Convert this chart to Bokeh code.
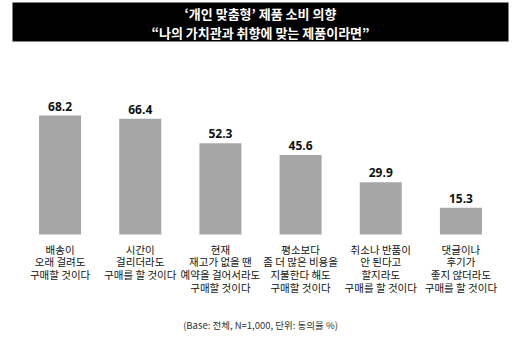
from bokeh.plotting import figure
from bokeh.models import FactorRange, Range1d, BoxAnnotation, Label, ColumnDataSource
from bokeh.core.properties import value
from bokeh.embed import file_html
from bokeh.resources import INLINE

# ---- data ----
categories = [
    "배송이\n오래 걸려도\n구매할 것이다",
    "시간이\n걸리더라도\n구매를 할 것이다",
    "현재\n재고가 없을 땐\n예약을 걸어서라도\n구매할 것이다",
    "평소보다\n좀 더 많은 비용을\n지불한다 해도\n구매할 것이다",
    "취소나 반품이\n안 된다고\n할지라도\n구매를 할 것이다",
    "댓글이나\n후기가\n좋지 않더라도\n구매를 할 것이다",
]
values = [68.2, 66.4, 52.3, 45.6, 29.9, 15.3]
value_labels = ["68.2", "66.4", "52.3", "45.6", "29.9", "15.3"]
title_text = "‘개인 맞춤형’ 제품 소비 의향\n“나의 가치관과 취향에 맞는 제품이라면”"
footer_text = "(Base: 전체, N=1,000, 단위: 동의율 %)"

W, H = 520, 339
BASE_PX = 234.0          # pixel row of the zero line
SCALE = 119.0 / 68.2     # pixels per unit
PAD = 0.243              # factor padding (absolute)
XPX = W / (len(categories) + 2 * PAD)

def ydata(py):
    return (BASE_PX - py) / SCALE

def xdata(px):
    return px / XPX - PAD

src = ColumnDataSource(dict(cat=categories, val=values, lbl=value_labels))

p = figure(
    width=W, height=H,
    x_range=FactorRange(*categories, range_padding=PAD, range_padding_units="absolute"),
    y_range=Range1d(ydata(H), ydata(0)),
    output_backend="svg", toolbar_location=None,
    min_border=0, outline_line_color=None,
)
p.axis.visible = False
p.grid.visible = False
p.background_fill_color = "white"
p.border_fill_color = "white"

# title box
p.add_layout(BoxAnnotation(left=xdata(12), right=xdata(508), top=ydata(2), bottom=ydata(41),
                           fill_color="black", fill_alpha=1.0,
                           line_color="#8a8a8a", line_width=1))
p.add_layout(Label(x=len(categories) / 2, y=ydata(22.5), text=title_text,
                   text_align="center", text_baseline="middle",
                   text_color="white", text_font_style="bold", text_font_size="13px",
                   text_font="Noto Sans CJK KR", text_line_height=0.95))

# bars
p.vbar(x="cat", top="val", width=0.524, source=src, fill_color="#a6a6a6", line_color=None)

# value labels
p.text(x="cat", y="val", text="lbl", source=src, text_align="center", text_baseline="bottom",
       y_offset=-5, text_font=value("Open Sans"), text_font_style="bold",
       text_font_size="12px", text_color="#111111")

# category labels
p.text(x="cat", y=0, text="cat", source=src, text_align="center", text_baseline="top",
       y_offset=7, text_font=value("Noto Sans CJK KR"), text_font_size="10.5px",
       text_line_height=0.85, text_color="#111111")

# footer
p.add_layout(Label(x=len(categories) / 2, y=ydata(324), text=footer_text,
                   text_align="center", text_baseline="middle",
                   text_font="Noto Sans CJK KR", text_font_size="9.5px", text_color="#333333"))

open("out.html", "w").write(file_html(p, INLINE))
